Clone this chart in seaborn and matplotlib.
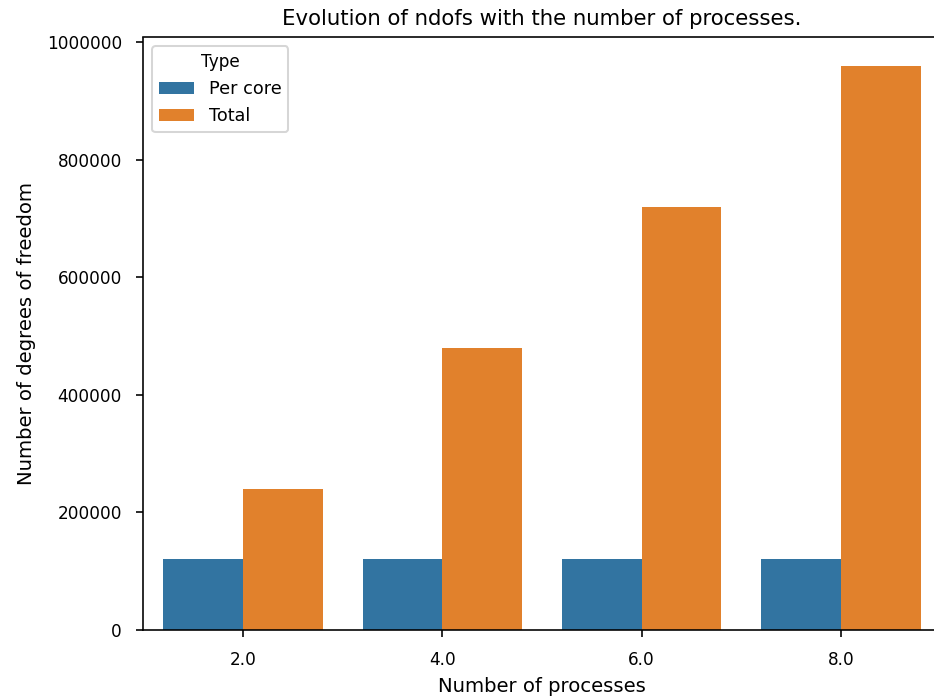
import matplotlib
matplotlib.use("Agg")
import matplotlib.pyplot as plt
import pandas as pd
import seaborn as sns

# Degrees of freedom measured for each process count
processes = ["2.0", "4.0", "6.0", "8.0"]
per_core = [120000, 120000, 120000, 120000]
total = [240000, 480000, 720000, 960000]
types = ["Per core", "Total"]

df = pd.DataFrame({
    "Number of processes": processes * 2,
    "ndofs": per_core + total,
    "Type": [types[0]] * len(processes) + [types[1]] * len(processes),
})

plt.rcParams.update({
    "xtick.labelsize": 8.3,
    "ytick.labelsize": 8.3,
    "xtick.major.pad": 7,
    "ytick.major.pad": 7,
    "axes.labelsize": 9.7,
    "axes.titlesize": 10.5,
    "legend.fontsize": 8.7,
    "legend.title_fontsize": 8.3,
})

W, H, DPI = 934, 697, 146
fig = plt.figure(figsize=(W / DPI, H / DPI), dpi=DPI)
ax = fig.add_axes([143.3 / W, (H - 630) / H, (940.7 - 143.3) / W, (630 - 37.5) / H])

sns.barplot(data=df, x="Number of processes", y="ndofs", hue="Type",
            order=processes, hue_order=types, ax=ax)

ax.ticklabel_format(axis="y", style="plain")
ax.set_ylabel("Number of degrees of freedom", labelpad=5.5)
ax.set_xlabel("Number of processes")
ax.set_title("Evolution of ndofs with the number of processes.")
ax.legend(title="Type", loc="upper left")

fig.savefig("out.png", dpi=DPI)
